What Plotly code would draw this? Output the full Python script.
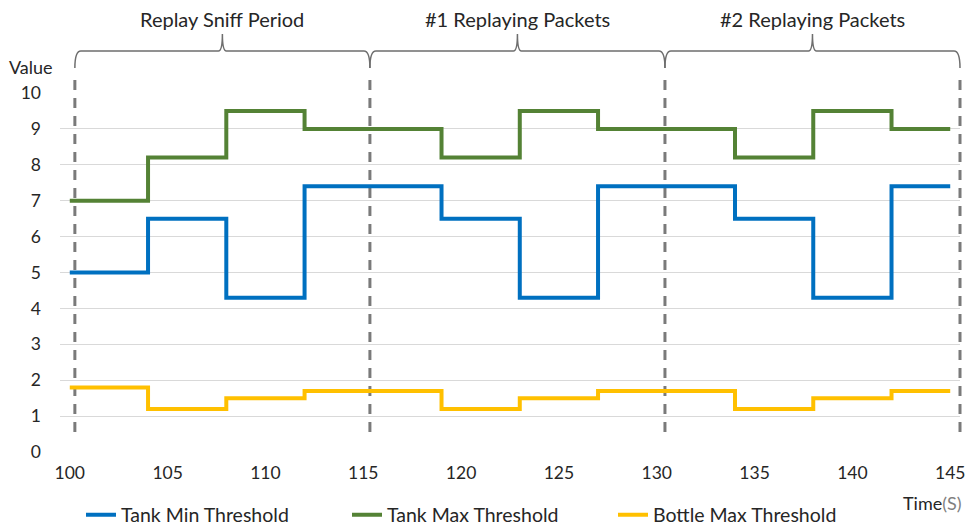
import plotly.graph_objects as go

# ---- data ----
time_points = [100, 104, 108, 112, 119, 123, 127, 134, 138, 142, 145]
tank_min = [5.0, 6.5, 4.3, 7.4, 6.5, 4.3, 7.4, 6.5, 4.3, 7.4, 7.4]
tank_max = [7.0, 8.2, 9.5, 9.0, 8.2, 9.5, 9.0, 8.2, 9.5, 9.0, 9.0]
bottle_max = [1.8, 1.2, 1.5, 1.7, 1.2, 1.5, 1.7, 1.2, 1.5, 1.7, 1.7]

series_names = ["Tank Min Threshold", "Tank Max Threshold", "Bottle Max Threshold"]
series_colors = ["#0070C0", "#548235", "#FFC000"]

period_bounds = [100.26, 115.34, 130.42, 145.5]
period_labels = ["Replay Sniff Period", "#1 Replaying Packets", "#2 Replaying Packets"]

x_tick_vals = [100, 105, 110, 115, 120, 125, 130, 135, 140, 145]
y_tick_vals = list(range(0, 11))

X_RANGE = [99.5, 145.5]
Y_RANGE = [0, 10]

FONT = "Lato"
TXT = 20
LEG = 19.5
TICK = 17.5

fig = go.Figure()
for name, vals, col in zip(series_names, [tank_min, tank_max, bottle_max], series_colors):
    fig.add_trace(go.Scatter(
        x=time_points, y=vals, name=name, mode="lines",
        line=dict(color=col, width=4, shape="hv"),
    ))

# page offset (body margin) and geometry helpers
OX, OY = 8, 8
W, H = 977, 531
# plot area in window pixels: x 60..960, y 93..452
L, T = 60 - OX, 93 - OY
R = W - (960 - OX)
B = H - (452 - OY)
pw, ph = W - L - R, H - T - B


def xp(v):
    return (v - X_RANGE[0]) / (X_RANGE[1] - X_RANGE[0])


def xp_px(px):
    return (px - OX - L) / pw


def yp_px(py):
    # window pixel y -> paper
    return (H - B - (py - OY)) / ph


shapes = []
# dashed period separators
for b in period_bounds:
    shapes.append(dict(
        type="line", xref="paper", yref="paper",
        x0=xp(b), x1=xp(b), y0=yp_px(432), y1=yp_px(78),
        line=dict(color="#7A7A7A", width=3, dash="10px,8px"),
        layer="below",
    ))

# curly braces
yb = yp_px(51)
ye = yp_px(68)
yt = yp_px(34)
dx = 6 / pw
dxc = 4 / pw
for i in range(len(period_bounds) - 1):
    a, b = xp(period_bounds[i]), xp(period_bounds[i + 1])
    c = (a + b) / 2
    path = (
        f"M {a},{ye} Q {a},{yb} {a+dx},{yb} "
        f"L {c-dxc},{yb} Q {c},{yb} {c},{yt} "
        f"Q {c},{yb} {c+dxc},{yb} "
        f"L {b-dx},{yb} Q {b},{yb} {b},{ye}"
    )
    shapes.append(dict(type="path", xref="paper", yref="paper", path=path,
                       line=dict(color="#6E6E6E", width=1.5)))

annotations = []
for i, lab in enumerate(period_labels):
    c = (xp(period_bounds[i]) + xp(period_bounds[i + 1])) / 2
    annotations.append(dict(
        text=lab, x=c, y=yp_px(19), xref="paper", yref="paper",
        showarrow=False, xanchor="center", yanchor="middle", borderpad=0,
        font=dict(family=FONT, size=TXT, color="#262626"),
    ))

annotations.append(dict(
    text="Value", x=xp_px(31), y=yp_px(67), xref="paper", yref="paper",
    showarrow=False, xanchor="center", yanchor="middle", borderpad=0,
    font=dict(family=FONT, size=18, color="#262626"),
))
annotations.append(dict(
    text="Time<span style='color:#7F7F7F'>(S)</span>", x=xp_px(964), y=yp_px(503),
    xref="paper", yref="paper", showarrow=False, xanchor="right", yanchor="middle",
    font=dict(family=FONT, size=18, color="#262626"),
))

fig.update_layout(
    width=W, height=H,
    margin=dict(l=L, r=R, t=T, b=B, autoexpand=False),
    paper_bgcolor="white", plot_bgcolor="rgba(0,0,0,0)",
    font=dict(family=FONT, size=TICK, color="#262626"),
    showlegend=True,
    legend=dict(
        orientation="h", x=xp_px(81), y=yp_px(515), xanchor="left", yanchor="middle",
        xref="paper", yref="paper",
        font=dict(family=FONT, size=LEG, color="#262626"),
        entrywidth=221, entrywidthmode="pixels",
        bgcolor="rgba(0,0,0,0)", itemwidth=30,
    ),
    xaxis=dict(
        range=X_RANGE, tickvals=x_tick_vals, showgrid=False, zeroline=False,
        showline=False, ticks="", tickfont=dict(family=FONT, size=TICK),
        ticklabelstandoff=8, automargin=False,
    ),
    yaxis=dict(
        range=Y_RANGE, tickvals=y_tick_vals, showgrid=True, gridcolor="#D9D9D9",
        gridwidth=1, zeroline=False, showline=False, ticks="",
        tickfont=dict(family=FONT, size=TICK), ticklabelstandoff=18, automargin=False,
    ),
    shapes=shapes, annotations=annotations,
)

fig.write_html("out.html")
